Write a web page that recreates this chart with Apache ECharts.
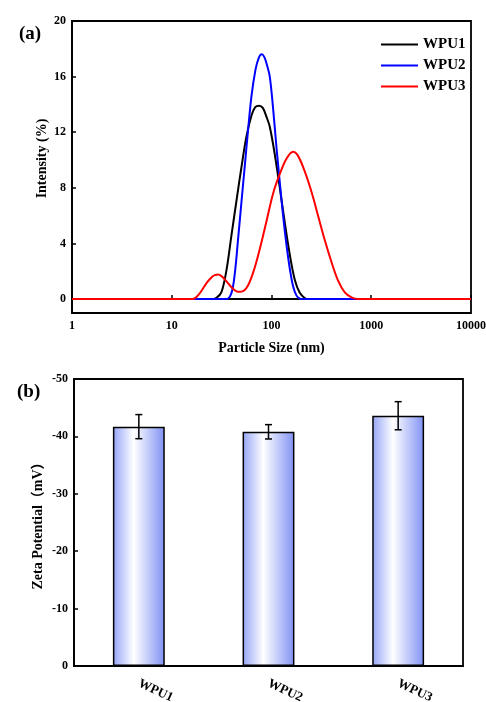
<!DOCTYPE html>
<html>
<head>
<meta charset="utf-8">
<script src="https://cdn.jsdelivr.net/npm/echarts@6/dist/echarts.min.js"></script>
<style>
  html, body { margin: 0; padding: 0; background: #fff; }
  #chart { width: 486px; height: 702px; }
</style>
</head>
<body>
<div id="chart"></div>
<script>
// Particle size distribution (intensity %, size in nm) for three samples
const sizeWPU1 = [1, 25.0, 28.1, 31.5, 35.4, 39.7, 44.6, 50.0, 56.1, 63.0, 68.7, 75.1, 81.8, 89.1, 96.1, 107.9, 121.1, 135.9, 152.5, 171.1, 192, 215, 231, 10000];
const intWPU1  = [0, 0, 0.1, 0.5, 2.1, 4.6, 7.1, 9.5, 11.7, 13.2, 13.8, 13.9, 13.75, 13.1, 12.4, 10.4, 8.0, 5.5, 3.2, 1.4, 0.45, 0.08, 0, 0];

const sizeWPU2 = [1, 35.4, 39.7, 42.8, 46.2, 50.0, 54.0, 58.3, 63.0, 69.1, 74.1, 79.4, 84.8, 90.3, 96.1, 103.8, 112.2, 121.1, 130.7, 141.3, 152.5, 164.8, 178.2, 192, 201, 10000];
const intWPU2  = [0, 0, 0.45, 1.8, 4.3, 7.0, 9.6, 12.2, 14.6, 16.5, 17.3, 17.6, 17.4, 16.8, 16.0, 13.7, 10.9, 8.4, 6.0, 3.9, 2.2, 0.9, 0.25, 0.03, 0, 0];

const sizeWPU3 = [1, 16.2, 17.7, 19.9, 22.3, 25.0, 27.0, 29.1, 31.5, 34.0, 39.7, 43.7, 48.1, 56.1, 65.4, 76.3, 89.1, 103.8, 121.1, 141.3, 164.8, 184.5, 215, 252, 293, 340, 400, 465, 543, 634, 739, 10000];
const intWPU3  = [0, 0, 0.15, 0.6, 1.15, 1.55, 1.72, 1.76, 1.65, 1.42, 0.85, 0.6, 0.52, 0.8, 1.9, 3.6, 5.6, 7.6, 9.0, 10.1, 10.6, 10.3, 9.2, 7.7, 6.0, 4.3, 2.65, 1.33, 0.48, 0.12, 0, 0];

const sizeTicks = [1, 10, 100, 1000, 10000];
const intensityTicks = [0, 4, 8, 12, 16, 20];

// Zeta potential (mV) with standard deviations
const samples = ['WPU1', 'WPU2', 'WPU3'];
const zeta = [-41.7, -40.8, -43.6];
const zetaErr = [2.1, 1.25, 2.45];

const FONT = "'Liberation Serif', 'Times New Roman', 'Noto Sans CJK SC', serif";
const pair = (xs, ys) => xs.map((x, i) => [x, ys[i]]);

const frame = { show: true, lineStyle: { color: '#000', width: 1.8 } };
const tickIn = { show: true, inside: true, length: 4, lineStyle: { color: '#000', width: 1.5 } };
const tickLabel = { color: '#000', fontFamily: FONT, fontWeight: 'bold', fontSize: 12 };
const nameStyle = { color: '#000', fontFamily: FONT, fontWeight: 'bold', fontSize: 14 };

const lineSeries = (name, color, xs, ys) => ({
  name, type: 'line', xAxisIndex: 0, yAxisIndex: 0,
  data: pair(xs, ys), symbol: 'none', smooth: 0.35,
  lineStyle: { color, width: 2 }, itemStyle: { color }
});

// flat bar used as the legend key
const legendLine = 'path://M0,0L37,0L37,2L0,2Z';

const chart = echarts.init(document.getElementById('chart'), null, { renderer: 'canvas' });

chart.setOption({
  backgroundColor: '#fff',
  animation: false,
  title: [
    { text: '(a)', left: 14, top: 20, textStyle: { fontFamily: FONT, fontWeight: 'bold', fontSize: 19, color: '#000' } },
    { text: '(b)', left: 12, top: 378, textStyle: { fontFamily: FONT, fontWeight: 'bold', fontSize: 19, color: '#000' } }
  ],
  legend: {
    data: [
      { name: 'WPU1', icon: legendLine },
      { name: 'WPU2', icon: legendLine },
      { name: 'WPU3', icon: legendLine }
    ],
    orient: 'vertical', left: 376, top: 32,
    itemWidth: 37, itemHeight: 14, itemGap: 6, symbolKeepAspect: true,
    textStyle: { fontFamily: FONT, fontWeight: 'bold', fontSize: 15, color: '#000' }
  },
  grid: [
    { left: 72, right: 15, top: 21, height: 292, outerBoundsMode: 'none', containLabel: false,
      show: true, borderColor: '#000', borderWidth: 1.8, backgroundColor: 'transparent' },
    { left: 74, right: 23, top: 379, height: 287, outerBoundsMode: 'none', containLabel: false,
      show: true, borderColor: '#000', borderWidth: 1.8, backgroundColor: 'transparent' }
  ],
  xAxis: [
    {
      gridIndex: 0, type: 'log', logBase: 10, min: 1, max: 10000,
      name: 'Particle Size (nm)', nameLocation: 'middle', nameGap: 28, nameMoveOverlap: false, nameTextStyle: nameStyle,
      axisLine: frame, axisTick: Object.assign({}, tickIn, { customValues: sizeTicks }),
      minorTick: { show: false }, splitLine: { show: false },
      axisLabel: Object.assign({}, tickLabel, { margin: 7, customValues: sizeTicks, formatter: v => String(Math.round(v)) })
    },
    {
      gridIndex: 1, type: 'category', data: samples,
      axisLine: frame, axisTick: { show: false },
      axisLabel: Object.assign({}, tickLabel, { fontSize: 13, rotate: -25, margin: 17 })
    }
  ],
  yAxis: [
    {
      gridIndex: 0, type: 'value', min: -1, max: 20,
      name: 'Intensity (%)', nameLocation: 'middle', nameGap: 23, nameMoveOverlap: false,
      nameTextStyle: Object.assign({}, nameStyle, { padding: [0, 0, 0, 17] }),
      axisLine: frame, axisTick: Object.assign({}, tickIn, { customValues: intensityTicks }),
      splitLine: { show: false },
      axisLabel: Object.assign({}, tickLabel, { margin: 6, customValues: intensityTicks })
    },
    {
      gridIndex: 1, type: 'value', min: -50, max: 0, interval: 10, inverse: true,
      name: 'Zeta Potential（mV）', nameLocation: 'middle', nameGap: 29, nameMoveOverlap: false, nameTextStyle: nameStyle,
      axisLine: frame, axisTick: tickIn, splitLine: { show: false },
      axisLabel: Object.assign({}, tickLabel, { margin: 6 })
    }
  ],
  series: [
    lineSeries('WPU1', '#000000', sizeWPU1, intWPU1),
    lineSeries('WPU2', '#0000ff', sizeWPU2, intWPU2),
    lineSeries('WPU3', '#ff0000', sizeWPU3, intWPU3),
    {
      name: 'Zeta Potential', type: 'bar', xAxisIndex: 1, yAxisIndex: 1,
      data: zeta, barWidth: '40%',
      itemStyle: {
        borderColor: '#000', borderWidth: 1.5,
        color: new echarts.graphic.LinearGradient(0, 0, 1, 0, [
          { offset: 0, color: '#95a4f7' },
          { offset: 0.4, color: '#ffffff' },
          { offset: 1, color: '#8091f4' }
        ])
      }
    },
    {
      name: 'Zeta error', type: 'custom', xAxisIndex: 1, yAxisIndex: 1, z: 5,
      data: samples.map((s, i) => [i, zeta[i], zetaErr[i]]),
      encode: { x: 0, y: 1 },
      renderItem: (params, api) => {
        const i = api.value(0), v = api.value(1), e = api.value(2);
        const hi = api.coord([i, v - e]);
        const lo = api.coord([i, v + e]);
        const cap = 3.5;
        const style = { stroke: '#000', lineWidth: 1.5 };
        return {
          type: 'group',
          children: [
            { type: 'line', shape: { x1: hi[0], y1: hi[1], x2: lo[0], y2: lo[1] }, style },
            { type: 'line', shape: { x1: hi[0] - cap, y1: hi[1], x2: hi[0] + cap, y2: hi[1] }, style },
            { type: 'line', shape: { x1: lo[0] - cap, y1: lo[1], x2: lo[0] + cap, y2: lo[1] }, style }
          ]
        };
      }
    }
  ]
});
</script>
</body>
</html>
